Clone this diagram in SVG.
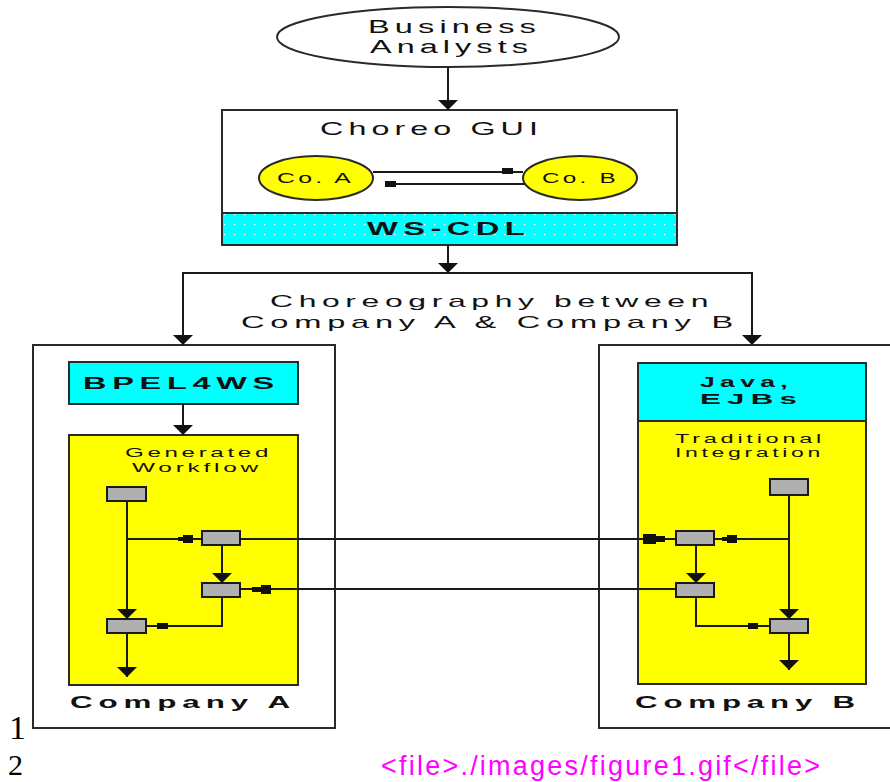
<svg xmlns="http://www.w3.org/2000/svg" width="890" height="782" viewBox="0 0 890 782">
<style>
.ln{fill:none;stroke:#1a1a1a;stroke-width:2}
.box{stroke:#2a2a2a;stroke-width:2}
.wf{fill:#b0b0b0;stroke:#1a1a1a;stroke-width:2}
.t{font-family:"Liberation Sans",Arial,sans-serif;fill:#111;letter-spacing:3px}
.s{letter-spacing:2px}
.b{font-weight:bold}
.mk{fill:#111}
</style>
<defs>
<marker id="ah" markerUnits="userSpaceOnUse" viewBox="0 0 10 20" markerWidth="10" markerHeight="20" refX="10" refY="10" orient="auto">
<path d="M0,0 L10,10 L0,20 z" fill="#111"/>
</marker>
<pattern id="dots" patternUnits="userSpaceOnUse" width="10" height="10">
<rect width="10" height="10" fill="#00ffff"/>
<rect x="4" y="4" width="1.2" height="1.2" fill="#ffffff"/>
</pattern>
</defs>
<rect width="890" height="782" fill="#ffffff"/>

<g id="business-analysts">
<ellipse cx="448" cy="37" rx="171" ry="30" fill="#ffffff" class="box"/>
<text class="t" x="368" y="33" font-size="19" textLength="173" lengthAdjust="spacingAndGlyphs">Business</text>
<text class="t" x="370" y="53" font-size="19" textLength="163" lengthAdjust="spacingAndGlyphs">Analysts</text>
</g>

<g id="choreo-gui">
<rect x="222" y="110" width="455" height="103" fill="#ffffff" class="box"/>
<text class="t" x="320" y="135" font-size="19" textLength="223" lengthAdjust="spacingAndGlyphs">Choreo GUI</text>
</g>

<g id="co-a">
<ellipse cx="316" cy="178" rx="57" ry="22" fill="#ffff00" class="box"/>
<text class="t s" x="277" y="183" font-size="15" textLength="77" lengthAdjust="spacingAndGlyphs">Co. A</text>
</g>

<g id="co-b">
<ellipse cx="580" cy="178" rx="57" ry="22" fill="#ffff00" class="box"/>
<text class="t s" x="542" y="183" font-size="15" textLength="77" lengthAdjust="spacingAndGlyphs">Co. B</text>
</g>

<g id="ws-cdl">
<rect x="222" y="213" width="455" height="32" fill="url(#dots)" class="box"/>
<text class="t b" x="367" y="235" font-size="18" textLength="163" lengthAdjust="spacingAndGlyphs">WS-CDL</text>
</g>

<g id="choreography-label">
<text class="t" x="270" y="307" font-size="17" textLength="444" lengthAdjust="spacingAndGlyphs">Choreography between</text>
<text class="t" x="241" y="328" font-size="17" textLength="498" lengthAdjust="spacingAndGlyphs">Company A &amp; Company B</text>
</g>

<g id="company-a">
<rect x="33" y="345" width="302" height="383" fill="#ffffff" class="box"/>
<text class="t b" x="70" y="708" font-size="16" textLength="226" lengthAdjust="spacingAndGlyphs">Company A</text>
</g>

<g id="bpel4ws">
<rect x="69" y="362" width="229" height="42" fill="#00ffff" class="box"/>
<text class="t b" x="83" y="389" font-size="17" textLength="197" lengthAdjust="spacingAndGlyphs">BPEL4WS</text>
</g>

<g id="generated-workflow">
<rect x="69" y="435" width="229" height="250" fill="#ffff00" class="box"/>
<text class="t s" x="125" y="457" font-size="13" textLength="147" lengthAdjust="spacingAndGlyphs">Generated</text>
<text class="t s" x="132" y="472" font-size="13" textLength="130" lengthAdjust="spacingAndGlyphs">Workflow</text>
</g>

<g id="company-b">
<rect x="599" y="345" width="300" height="383" fill="#ffffff" class="box"/>
<text class="t b" x="635" y="708" font-size="16" textLength="226" lengthAdjust="spacingAndGlyphs">Company B</text>
</g>

<g id="java-ejbs">
<rect x="638" y="363" width="228" height="58" fill="#00ffff" class="box"/>
<text class="t b" x="700" y="387" font-size="15" textLength="93" lengthAdjust="spacingAndGlyphs">Java,</text>
<text class="t b" x="700" y="404" font-size="15" textLength="103" lengthAdjust="spacingAndGlyphs">EJBs</text>
</g>

<g id="traditional-integration">
<rect x="638" y="421" width="228" height="263" fill="#ffff00" class="box"/>
<text class="t s" x="675" y="443" font-size="12.5" textLength="150" lengthAdjust="spacingAndGlyphs">Traditional</text>
<text class="t s" x="675" y="457" font-size="12.5" textLength="149" lengthAdjust="spacingAndGlyphs">Integration</text>
</g>

<g id="connectors">
<line class="ln" x1="448" y1="67" x2="448" y2="110" marker-end="url(#ah)"/>
<line class="ln" x1="373" y1="172" x2="523" y2="172"/>
<rect class="mk" x="502" y="168" width="11" height="6"/>
<line class="ln" x1="385" y1="184" x2="525" y2="184"/>
<rect class="mk" x="385" y="181" width="11" height="6"/>
<line class="ln" x1="448" y1="245" x2="448" y2="273" marker-end="url(#ah)"/>
<line class="ln" x1="182" y1="273" x2="753" y2="273"/>
<line class="ln" x1="183" y1="273" x2="183" y2="345" marker-end="url(#ah)"/>
<line class="ln" x1="752" y1="273" x2="752" y2="345" marker-end="url(#ah)"/>
<line class="ln" x1="183" y1="404" x2="183" y2="435" marker-end="url(#ah)"/>

<line class="ln" x1="127" y1="501" x2="127" y2="619" marker-end="url(#ah)"/>
<line class="ln" x1="127" y1="539" x2="202" y2="539"/>
<rect class="mk" x="183" y="535" width="10" height="8"/>
<rect class="mk" x="178" y="537" width="6" height="4"/>
<line class="ln" x1="222" y1="545" x2="222" y2="583" marker-end="url(#ah)"/>
<polyline class="ln" points="222,597 222,626 146,626"/>
<rect class="mk" x="157" y="623" width="11" height="6"/>
<line class="ln" x1="127" y1="633" x2="127" y2="677" marker-end="url(#ah)"/>

<line class="ln" x1="240" y1="539" x2="676" y2="539"/>
<rect class="mk" x="643" y="534" width="13" height="10"/>
<rect class="mk" x="656" y="536" width="9" height="6"/>
<line class="ln" x1="240" y1="589" x2="676" y2="589"/>
<rect class="mk" x="261" y="585" width="10" height="9"/>
<rect class="mk" x="252" y="587" width="9" height="5"/>

<line class="ln" x1="789" y1="495" x2="789" y2="619" marker-end="url(#ah)"/>
<line class="ln" x1="789" y1="539" x2="714" y2="539"/>
<rect class="mk" x="727" y="535" width="10" height="8"/>
<rect class="mk" x="722" y="537" width="6" height="4"/>
<line class="ln" x1="696" y1="545" x2="696" y2="583" marker-end="url(#ah)"/>
<polyline class="ln" points="696,597 696,626 770,626"/>
<rect class="mk" x="748" y="623" width="10" height="6"/>
<line class="ln" x1="789" y1="633" x2="789" y2="670" marker-end="url(#ah)"/>
</g>

<g id="wf-a-1"><rect class="wf" x="107" y="487" width="39" height="14"/></g>
<g id="wf-a-2"><rect class="wf" x="202" y="531" width="38" height="14"/></g>
<g id="wf-a-3"><rect class="wf" x="202" y="583" width="38" height="14"/></g>
<g id="wf-a-4"><rect class="wf" x="107" y="619" width="39" height="14"/></g>
<g id="wf-b-1"><rect class="wf" x="770" y="479" width="38" height="16"/></g>
<g id="wf-b-2"><rect class="wf" x="676" y="531" width="38" height="14"/></g>
<g id="wf-b-3"><rect class="wf" x="676" y="583" width="38" height="14"/></g>
<g id="wf-b-4"><rect class="wf" x="770" y="619" width="38" height="14"/></g>

<g id="page-text">
<text x="9" y="739" font-family="'Liberation Serif','Times New Roman',serif" font-size="34" fill="#000">1</text>
<text x="8" y="775" font-family="'Liberation Serif','Times New Roman',serif" font-size="30" fill="#000">2</text>
<text x="381" y="775" font-family="'Liberation Sans',Arial,sans-serif" font-size="27" fill="#ff00ff" textLength="439">&lt;file&gt;./images/figure1.gif&lt;/file&gt;</text>
</g>
</svg>
